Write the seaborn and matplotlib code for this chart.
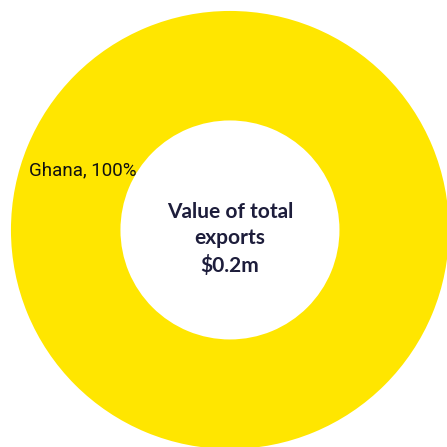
import matplotlib
matplotlib.use("Agg")
import matplotlib.pyplot as plt
import seaborn as sns

sns.set_theme(style="white")

countries = ["Ghana"]
shares = [100]
total_value = "$0.2m"
colors = ["#FFE600"]

fig = plt.figure(figsize=(4.47, 4.47), dpi=100)
ax = fig.add_axes([0, 0, 1, 1])
ax.pie(shares, colors=colors, startangle=90, radius=1.0,
       wedgeprops=dict(width=0.5, edgecolor="none"))
ax.set_aspect("equal")
ax.set_xlim(-1.050, 0.991)
ax.set_ylim(-0.991, 1.050)
ax.axis("off")

ax.text(-0.67, 0.27, f"{countries[0]}, {shares[0]}%", ha="center", va="center",
        fontsize=13.5, color="#111111",
        family=["Liberation Sans Narrow", "Roboto", "DejaVu Sans"],
        fontstretch="condensed")

ax.text(0.0, -0.04, f"Value of total\nexports\n{total_value}",
        ha="center", va="center", fontsize=15, fontweight="bold",
        color="#1d1d3b", family=["Lato", "DejaVu Sans"], linespacing=1.4)

fig.savefig("out.png", dpi=100)
